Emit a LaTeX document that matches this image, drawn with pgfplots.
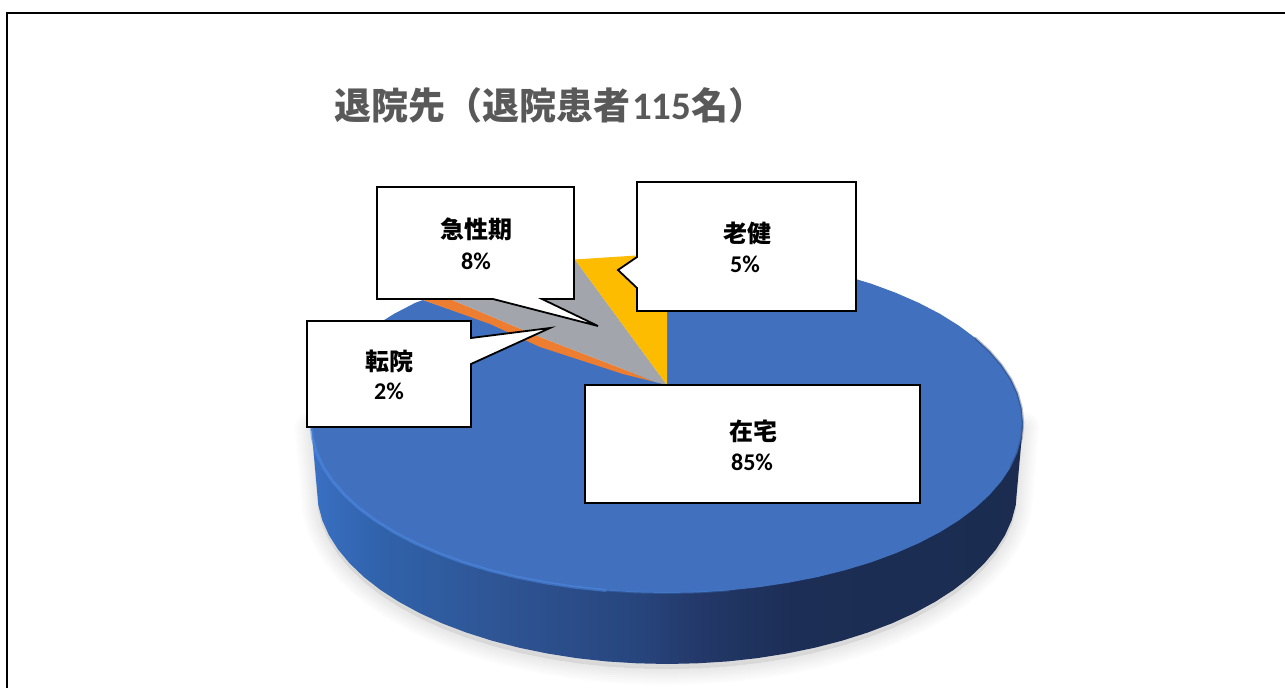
\documentclass[border=0pt]{standalone}
\usepackage{fontspec}
\usepackage{pgfplots}
\usepackage{pgfplotstable}
\pgfplotsset{compat=1.18}
\setmainfont{Carlito}
\newfontfamily\cjk{Noto Sans CJK JP}
\definecolor{topblue}{HTML}{4070BE}
\definecolor{yel}{HTML}{FDBC00}
\definecolor{ora}{HTML}{ED7D31}
\definecolor{gra}{HTML}{A2A6AC}
\definecolor{rim}{HTML}{4F8CE6}
\definecolor{sa}{HTML}{3A70C4}
\definecolor{sb}{HTML}{3062AA}
\definecolor{sc}{HTML}{2F5595}
\definecolor{sd}{HTML}{27457D}
\definecolor{se}{HTML}{24396A}
\definecolor{sf}{HTML}{1C2E55}
\definecolor{sg}{HTML}{1B2C50}
\pgfdeclarehorizontalshading{sidefill}{100bp}{color(0bp)=(sa); color(25bp)=(sa); color(30bp)=(sb); color(38bp)=(sc); color(48bp)=(sd); color(52bp)=(se); color(59bp)=(sf); color(75bp)=(sg); color(100bp)=(sg)}
\pgfplotstableread{
x y
311 423
317 490
318.3 505.2
322.3 520.2
328.9 535
338.1 549.5
349.8 563.5
363.9 577
380.3 589.8
398.9 601.8
419.5 613
442 623.3
466.2 632.5
492 640.7
519.1 647.7
547.3 653.5
576.4 658.1
606.2 661.4
636.5 663.3
667 664
697.5 663.3
727.8 661.4
757.6 658.1
786.7 653.5
814.9 647.7
842 640.7
867.8 632.5
892 623.3
914.5 613
935.1 601.8
953.7 589.8
970.1 577
984.2 563.5
995.9 549.5
1005.1 535
1011.7 520.2
1015.7 505.2
1017 490
1023 423
}\sidetable
\begin{document}
\begin{tikzpicture}
\useasboundingbox (0,0) rectangle (1285pt,688pt);
\begin{axis}[
  at={(0,0)}, anchor=south west,
  scale only axis, width=1285pt, height=688pt,
  xmin=0, xmax=1285, ymin=0, ymax=688, y dir=reverse,
  hide axis, clip=true,
]
% outer frame
\addplot[black, line width=2pt, forget plot] coordinates {(7,688) (7,12.5) (1285,12.5)};
% soft shadow
\pgfplotsinvokeforeach{32,28,24,20,16,12,8,4}{
  \addplot[draw=black!70, fill=black!70, opacity=0.017, line width=#1pt, line join=round, yshift=-5pt, forget plot] table {\sidetable} -- cycle;
}
% side wall
\addplot[shading=sidefill, draw=none, forget plot] table {\sidetable} -- cycle;
% 在宅 85%
\addplot[fill=topblue, draw=none, forget plot] coordinates {
(667,385) (667,253) (698,253.6) (728.8,255.6) (759.1,258.8) (788.8,263.3) (817.4,268.9) (845,275.8) (871.2,283.7) (895.8,292.8) (918.7,302.8) (939.7,313.7) (958.6,325.5) (975.3,338) (989.6,351.2) (1001.5,364.9) (1010.9,379) (1017.6,393.5) (1021.6,408.2) (1023,423)
(1021.6,437.8) (1017.6,452.5) (1010.9,467) (1001.5,481.1) (989.6,494.8) (975.3,508) (958.6,520.5) (939.7,532.3) (918.7,543.2) (895.8,553.2) (871.2,562.3) (845,570.2) (817.4,577.1) (788.8,582.7) (759.1,587.2) (728.8,590.4) (698,592.4) (667,593)
(636,592.4) (605.2,590.4) (574.9,587.2) (545.2,582.7) (516.6,577.1) (489,570.2) (462.8,562.3) (438.2,553.2) (415.3,543.2) (394.3,532.3) (375.4,520.5) (358.7,508) (344.4,494.8) (332.5,481.1) (323.1,467) (316.4,452.5) (312.4,437.8) (311,423)
(312.4,408.2) (316.4,393.5) (323.1,379) (332.5,364.9) (344.4,351.2) (358.7,338) (375.4,325.5) (394.3,313.7) (415.3,302.8) (423,300)
} -- cycle;
% rim highlight and dark right edge
\addplot[rim, line width=3pt, opacity=0.55, line cap=round, forget plot] coordinates {
(311,423) (312.4,437.8) (316.4,452.5) (323.1,467) (332.5,481.1) (344.4,494.8) (358.7,508) (375.4,520.5) (394.3,532.3) (415.3,543.2) (438.2,553.2) (462.8,562.3) (489,570.2) (516.6,577.1) (545.2,582.7) (574.9,587.2) (605.2,590.4)};
\addplot[rim, line width=2pt, opacity=0.25, line cap=round, forget plot] coordinates {
(605.2,590.4) (636,592.4) (667,593) (698,592.4) (728.8,590.4)};
\addplot[sg, line width=2.5pt, opacity=0.3, line cap=round, forget plot] coordinates {
(975.3,338) (989.6,351.2) (1001.5,364.9) (1010.9,379) (1017.6,393.5) (1021.6,408.2) (1023,423) (1021.6,437.8) (1017.6,452.5) (1010.9,467)};
% 転院 2%
\addplot[fill=ora, draw=none, forget plot] coordinates {(655,382) (623,369) (540,337) (438,294) (423,300) (490,324) (540,347) (623,374)} -- cycle;
% 急性期 8%
\addplot[fill=gra, draw=none, forget plot] coordinates {(667,385) (574.9,259.5) (545.2,263.3) (516.6,268.9) (489,275.8) (462.8,283.7) (438.2,292.8) (438,294) (540,337) (623,369) (655,382)} -- cycle;
% 老健 5%
\addplot[fill=yel, draw=none, forget plot] coordinates {(667,385) (667,254) (636,255.5) (605.2,257.5) (574.9,259.5)} -- cycle;
% callouts
\addplot[fill=white, draw=black, line width=1.8pt, line join=miter, forget plot] coordinates {(377,187) (574,187) (574,299) (542,299) (598,326) (493,299) (377,299)} -- cycle;
\addplot[fill=white, draw=black, line width=1.8pt, line join=miter, forget plot] coordinates {(307,321) (471,321) (471,338) (550,328) (471,364) (471,427) (307,427)} -- cycle;
\addplot[fill=white, draw=black, line width=1.8pt, line join=miter, forget plot] coordinates {(637,182) (856,182) (856,311) (637,311) (637,288) (618,270) (637,257)} -- cycle;
\addplot[fill=white, draw=black, line width=1.8pt, line join=miter, forget plot] coordinates {(585,385) (920,385) (920,503) (585,503)} -- cycle;
% texts
\node[anchor=west, inner sep=0pt, text=black!65, font=\fontsize{37}{40}\selectfont\bfseries] at (axis cs:334,105) {{\cjk 退院先（退院患者}\hspace{2pt}{\fontsize{39}{40}\selectfont 115}{\cjk 名）}};
\tikzset{lab/.style={inner sep=0pt, text=black, font=\fontsize{24}{28}\selectfont\bfseries}}
\node[lab] at (axis cs:476,229) {\cjk 急性期};
\node[lab] at (axis cs:476,261) {8\%};
\node[lab] at (axis cs:747,233) {\cjk 老健};
\node[lab] at (axis cs:745,264) {5\%};
\node[lab] at (axis cs:389,361) {\cjk 転院};
\node[lab] at (axis cs:389,391) {2\%};
\node[lab] at (axis cs:753,431) {\cjk 在宅};
\node[lab] at (axis cs:752,462) {85\%};
\end{axis}
\end{tikzpicture}
\end{document}
